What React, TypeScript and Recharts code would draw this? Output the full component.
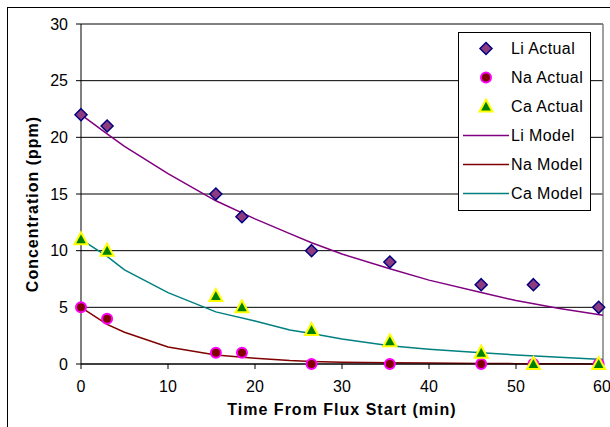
import { ComposedChart, Line, Scatter, XAxis, YAxis, CartesianGrid, ReferenceLine } from 'recharts'

const times = [0, 3, 15.5, 18.5, 26.5, 35.5, 46, 52, 59.5]
const liActual = [22, 21, 15, 13, 10, 9, 7, 7, 5]
const naActual = [5, 4, 1, 1, 0, 0, 0, 0, 0]
const caActual = [11, 10, 6, 5, 3, 2, 1, 0, 0]

const modelTimes = [0, 3, 5, 10, 15.5, 20, 24, 26.5, 30, 35.5, 40, 46, 50, 55, 60]
const liModel = [22, 20.3, 19.2, 16.8, 14.4, 12.8, 11.5, 10.7, 9.7, 8.4, 7.4, 6.3, 5.6, 4.9, 4.3]
const naModel = [5, 3.5, 2.8, 1.5, 0.8, 0.5, 0.3, 0.22, 0.15, 0.1, 0.08, 0.05, 0.03, 0.02, 0]
const caModel = [11, 9.5, 8.3, 6.3, 4.6, 3.8, 3.0, 2.7, 2.2, 1.6, 1.3, 1.0, 0.8, 0.6, 0.4]

const xTicks = [0, 10, 20, 30, 40, 50, 60]
const yTicks = [0, 5, 10, 15, 20, 25, 30]

const pts = (xs: number[], ys: number[]) => xs.map((x, i) => ({ x, y: ys[i] }))

const font = 'Arial, "Liberation Sans", sans-serif'

const Diamond = ({ cx, cy }: any) => (
  <polygon points={`${cx},${cy - 6} ${cx + 6},${cy} ${cx},${cy + 6} ${cx - 6},${cy}`} fill="#8e3a7e" stroke="#000080" strokeWidth={1.5} />
)
const Dot = ({ cx, cy }: any) => (
  <circle cx={cx} cy={cy} r={5} fill="#800000" stroke="#ff00ff" strokeWidth={2} />
)
const Tri = ({ cx, cy }: any) => (
  <polygon points={`${cx},${cy - 7} ${cx + 6.5},${cy + 5} ${cx - 6.5},${cy + 5}`} fill="#008000" stroke="#ffff00" strokeWidth={2} />
)

const legendItems = [
  { name: 'Li Actual', kind: 'marker', mark: Diamond },
  { name: 'Na Actual', kind: 'marker', mark: Dot },
  { name: 'Ca Actual', kind: 'marker', mark: Tri },
  { name: 'Li Model', kind: 'line', color: '#800080' },
  { name: 'Na Model', kind: 'line', color: '#800000' },
  { name: 'Ca Model', kind: 'line', color: '#008080' },
]

function App() {
  return (
    <div style={{ position: 'absolute', left: 0, top: 0, width: 610, height: 427, overflow: 'hidden', background: '#fff', fontFamily: font }}>
      <div style={{ position: 'absolute', left: 7, top: 7, width: 620, height: 440, borderLeft: '1px solid #000', borderTop: '1px solid #000' }} />
      <div style={{ position: 'absolute', left: 0, top: 0 }}>
        <ComposedChart width={610} height={427} margin={{ top: 24, right: 7, bottom: 0, left: 0 }}>
          <CartesianGrid horizontal vertical={false} stroke="#000" />
          <XAxis
            dataKey="x"
            type="number"
            domain={[0, 60]}
            ticks={xTicks}
            height={63}
            tickSize={5}
            tickMargin={12}
            stroke="#000"
            tick={{ fill: '#000', fontSize: 16, fontFamily: font }}
            label={{ value: 'Time From Flux Start (min)', position: 'insideBottom', offset: 12, fill: '#000', fontSize: 16, fontWeight: 'bold', fontFamily: font, letterSpacing: 1 }}
          />
          <YAxis
            type="number"
            domain={[0, 30]}
            ticks={yTicks}
            width={81}
            tickSize={5}
            tickMargin={8}
            stroke="#000"
            tick={{ fill: '#000', fontSize: 16, fontFamily: font }}
            label={{ value: 'Concentration (ppm)', angle: -90, position: 'center', dx: -8, dy: 10, fill: '#000', fontSize: 16, fontWeight: 'bold', fontFamily: font, letterSpacing: 1 }}
          />
          <ReferenceLine x={60} stroke="#808080" strokeWidth={1.5} />
          <Line data={pts(modelTimes, liModel)} dataKey="y" stroke="#800080" strokeWidth={1.5} dot={false} isAnimationActive={false} />
          <Line data={pts(modelTimes, naModel)} dataKey="y" stroke="#800000" strokeWidth={1.5} dot={false} isAnimationActive={false} />
          <Line data={pts(modelTimes, caModel)} dataKey="y" stroke="#008080" strokeWidth={1.5} dot={false} isAnimationActive={false} />
          <Scatter data={pts(times, liActual)} dataKey="y" shape={(p: any) => <Diamond cx={p.cx} cy={p.cy} />} isAnimationActive={false} />
          <Scatter data={pts(times, naActual)} dataKey="y" shape={(p: any) => <Dot cx={p.cx} cy={p.cy} />} isAnimationActive={false} />
          <Scatter data={pts(times, caActual)} dataKey="y" shape={(p: any) => <Tri cx={p.cx} cy={p.cy} />} isAnimationActive={false} />
        </ComposedChart>
      </div>
      <div style={{ position: 'absolute', left: 458, top: 32, width: 133, height: 179, border: '1px solid #000', background: '#fff', boxSizing: 'border-box', paddingTop: 1 }}>
        {legendItems.map((item) => {
          const M = item.mark
          return (
            <div key={item.name} style={{ display: 'flex', alignItems: 'center', height: 29, fontSize: 16, letterSpacing: 0.4, color: '#000' }}>
              <svg width={52} height={29} style={{ flexShrink: 0 }}>
                {item.kind === 'marker' && M ? <M cx={27} cy={14.5} /> : <line x1={4} x2={50} y1={14.5} y2={14.5} stroke={item.color} strokeWidth={1.5} />}
              </svg>
              <span>{item.name}</span>
            </div>
          )
        })}
      </div>
    </div>
  )
}

export default App
